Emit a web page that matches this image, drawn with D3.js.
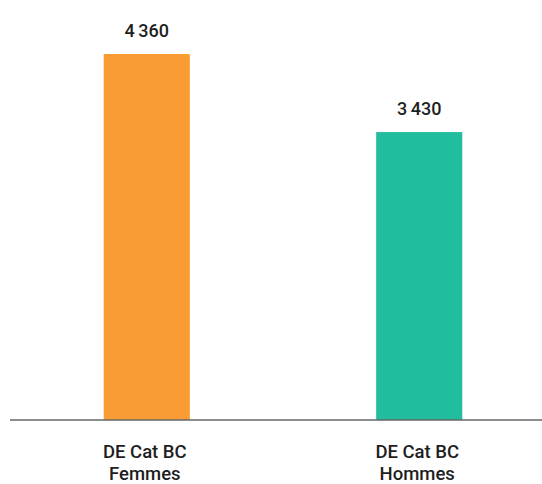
<!DOCTYPE html>
<html>
<head>
<meta charset="utf-8">
<script src="https://cdn.jsdelivr.net/npm/d3@7"></script>
<style>
  html, body { margin: 0; padding: 0; background: #fff; }
  svg { display: block; }
  text { font-family: Roboto, "Noto Sans", sans-serif; fill: #1e1e1e; }
</style>
</head>
<body>
<svg id="chart" width="542" height="484"></svg>
<script>
// Demandeurs d'emploi catégories B et C, par sexe
const categories = ["DE Cat BC Femmes", "DE Cat BC Hommes"];
const categoryLines = [["DE Cat BC", "Femmes"], ["DE Cat BC", "Hommes"]];
const values = [4360, 3430];
const colors = ["#F89C33", "#22BC9F"];

const svg = d3.select("#chart");
const baseline = 420;

const x = d3.scaleBand()
  .domain(categories)
  .range([10, 556])
  .paddingInner(0.684)
  .paddingOuter(0.344);

const y = d3.scaleLinear()
  .domain([0, 4360])
  .range([baseline, 54]);

const fmt = v => d3.format(",")(v).replace(/,/g, "\u2009");

// bars
svg.selectAll("rect.bar")
  .data(values)
  .join("rect")
  .attr("class", "bar")
  .attr("x", (d, i) => x(categories[i]))
  .attr("y", d => y(d))
  .attr("width", x.bandwidth())
  .attr("height", d => y(0) - y(d))
  .attr("fill", (d, i) => colors[i]);

// value labels
svg.selectAll("text.value")
  .data(values)
  .join("text")
  .attr("class", "value")
  .attr("x", (d, i) => x(categories[i]) + x.bandwidth() / 2)
  .attr("y", d => y(d) - 17)
  .attr("text-anchor", "middle")
  .attr("font-size", 18)
  .attr("font-weight", 500)
  .text(d => fmt(d));

// baseline axis
const xAxis = d3.axisBottom(x).tickSize(0).tickFormat("");
const axisG = svg.append("g")
  .attr("transform", `translate(0,${baseline})`)
  .call(xAxis);
axisG.select(".domain")
  .attr("d", "M10,0H542")
  .attr("stroke", "#666")
  .attr("stroke-width", 1.5);

// category labels (two lines)
const cat = svg.selectAll("text.cat")
  .data(categories)
  .join("text")
  .attr("class", "cat")
  .attr("text-anchor", "middle")
  .attr("font-size", 18.5)
  .attr("font-weight", 500)
  .attr("transform", d => `translate(${x(d) + x.bandwidth() / 2 - 2},458)`);

cat.selectAll("tspan")
  .data((d, i) => categoryLines[i])
  .join("tspan")
  .attr("x", 0)
  .attr("dy", (d, j) => j === 0 ? 0 : 21.5)
  .text(d => d);
</script>
</body>
</html>
